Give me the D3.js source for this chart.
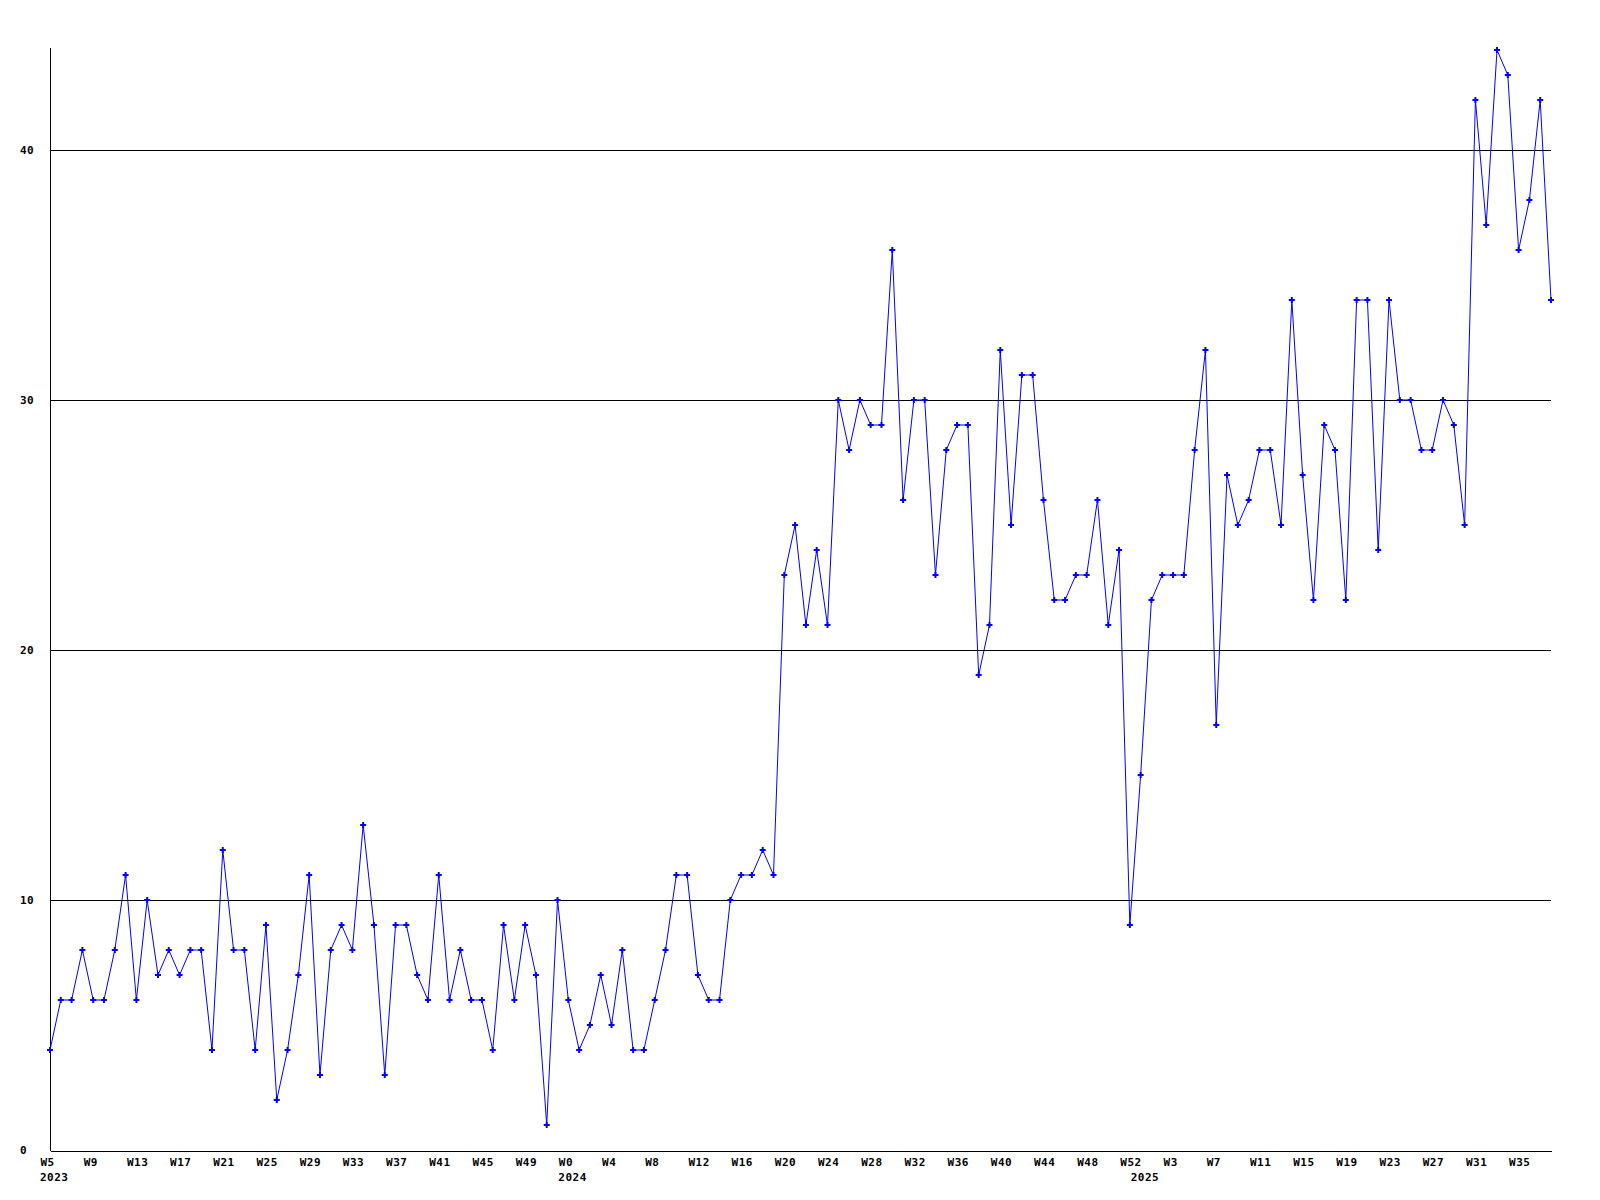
<!DOCTYPE html>
<html><head><meta charset="utf-8">
<script src="https://cdn.jsdelivr.net/npm/d3@7"></script>
<style>body{margin:0;background:#fff}svg{display:block}</style>
</head><body><svg id="c" width="1600" height="1200"></svg>
<script>
// Categories: week numbers per year (first week, last week)
const years = [2023, 2024, 2025];
const firstWeek = [5, 0, 0];
const lastWeek = [52, 52, 38];
// Weekly values, one per week in order
const values = [
  4,6,6,8,6,6,8,11,6,10,7,8,7,8,8,4,12,8,8,4,9,2,4,7,11,3,8,9,8,13,9,3,9,9,7,6,11,6,8,6,6,4,9,6,9,7,1,10,
  6,4,5,7,5,8,4,4,6,8,11,11,7,6,6,10,11,11,12,11,23,25,21,24,21,30,28,30,29,29,36,26,30,30,23,28,29,29,19,21,32,25,31,31,26,22,22,23,23,26,21,24,9,
  15,22,23,23,23,28,32,17,27,25,26,28,28,25,34,27,22,29,28,22,34,34,24,34,30,30,28,28,30,29,25,42,37,44,43,36,38,42,34
];
const yTicks = [0, 10, 20, 30, 40];
const labelEvery = 4;

// Build category table from the arrays above
const cats = [];
years.forEach((yr, k) => {
  for (let w = firstWeek[k]; w <= lastWeek[k]; w++) cats.push({year: yr, week: w, firstOfYear: w === firstWeek[k]});
});
const data = cats.map((c, i) => ({...c, i, v: values[i]}));

const svg = d3.select("#c");
const FONT = "'DejaVu Sans Mono', 'Liberation Mono', monospace";
const x = d3.scaleLinear().domain([0, data.length - 1]).range([50, 1551]);
const y = d3.scaleLinear().domain([0, 40]).range([1150, 150]);

function styleText(sel) {
  sel.style("font-family", FONT).style("font-size", "11px").style("font-weight", "bold")
     .style("letter-spacing", "0.5px").attr("fill", "#000");
}

// gridlines
svg.append("g").selectAll("line").data(yTicks.filter(t => t > 0)).join("line")
  .attr("x1", x(0)).attr("x2", x(data.length - 1))
  .attr("y1", d => y(d) + 0.5).attr("y2", d => y(d) + 0.5)
  .attr("stroke", "#000").attr("stroke-width", 1).attr("shape-rendering", "crispEdges");

// y axis line
svg.append("line").attr("x1", x(0) + 0.5).attr("x2", x(0) + 0.5)
  .attr("y1", y(0) + 0.5).attr("y2", y(44) - 2)
  .attr("stroke", "#000").attr("shape-rendering", "crispEdges");

// y axis labels
const yAxis = d3.axisLeft(y).tickValues(yTicks).tickSize(0).tickFormat(d3.format("d"));
const gy = svg.append("g").attr("transform", `translate(${x(0)},0)`).call(yAxis);
gy.select(".domain").remove();
gy.selectAll("text").attr("x", 20 - x(0)).attr("text-anchor", "start").attr("dy", "0.35em").call(styleText);

// x axis
const tickIdx = data.filter(d => d.i % labelEvery === 0).map(d => d.i);
const xAxis = d3.axisBottom(x).tickValues(tickIdx).tickSize(0).tickSizeOuter(0)
  .tickFormat(i => "W" + data[i].week);
const gx = svg.append("g").attr("transform", `translate(0,${y(0) + 0.5})`).call(xAxis);
gx.select(".domain").attr("stroke", "#000").attr("shape-rendering", "crispEdges");
gx.selectAll("text").attr("text-anchor", "start").attr("x", -10).attr("y", 15.5).attr("dy", 0).call(styleText);

// year labels
svg.append("g").selectAll("text").data(data.filter(d => d.firstOfYear)).join("text")
  .attr("x", d => x(d.i) - 10).attr("y", 1181)
  .text(d => d.year).call(styleText);

// data line
const line = d3.line().x(d => x(d.i)).y(d => y(d.v));
svg.append("path").datum(data).attr("d", line)
  .attr("fill", "none").attr("stroke", "#0000ff").attr("stroke-width", 1);

// markers
const sym = d3.symbol(d3.symbolCross).size(20);
svg.append("g").selectAll("path").data(data).join("path")
  .attr("transform", d => `translate(${x(d.i)},${y(d.v)})`)
  .attr("d", sym).attr("fill", "#0000ff");
</script>
</body></html>
